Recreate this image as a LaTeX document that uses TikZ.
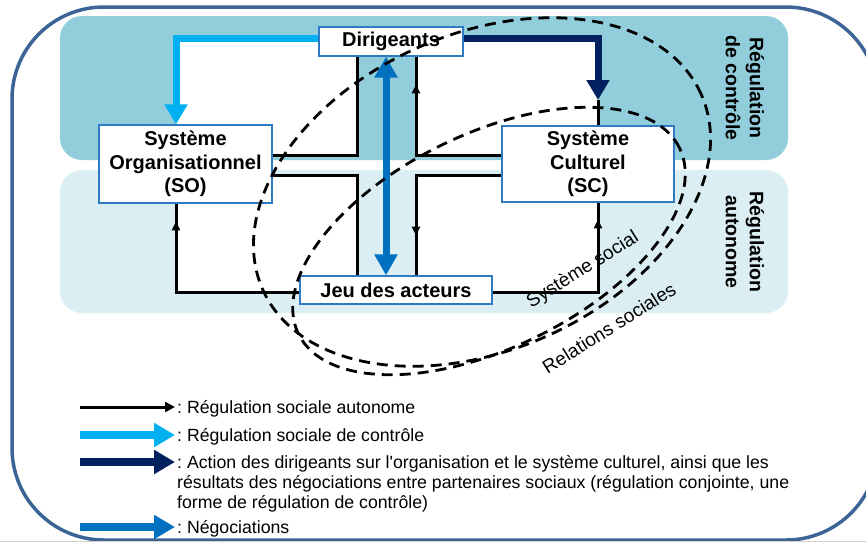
\documentclass[tikz,border=0pt]{standalone}
\usepackage{fontspec}
\setmainfont{Liberation Sans}
% a family without TeX ligatures, so that ' stays a straight apostrophe
\newfontfamily\legendfont{Liberation Sans}
\usetikzlibrary{arrows.meta,decorations.markings}

\definecolor{frameblue}{HTML}{3C6496}
\definecolor{bandtop}{HTML}{92CDDC}
\definecolor{bandlow}{HTML}{DAEEF3}
\definecolor{boxblue}{HTML}{2E7BC4}
\definecolor{ctrlcyan}{HTML}{00B0F0}
\definecolor{leadnavy}{HTML}{002060}
\definecolor{negoblue}{HTML}{0070C0}

\begin{document}
\frenchspacing
\begin{tikzpicture}[x=1pt,y=-1pt,
  box/.style={draw=boxblue, line width=1.2pt, fill=white, inner sep=0pt, align=center,
    font=\fontsize{20}{23.5}\selectfont\bfseries},
  reg/.style={line width=3pt, black},
  tipat/.style={postaction={decorate}, decoration={markings,
    mark=at position #1 with {\arrow{Triangle[length=9pt,width=8pt]}}}},
  ctrl/.style={line width=7pt, ctrlcyan, -{Triangle[length=20pt,width=22pt]}},
  lead/.style={line width=7pt, leadnavy, -{Triangle[length=20pt,width=22pt]}},
  nego/.style={line width=7pt, negoblue, {Triangle[length=21pt,width=22pt]}-{Triangle[length=21pt,width=22pt]}},
  soc/.style={line width=2.8pt, black, dash pattern=on 11pt off 7pt},
  lab/.style={inner sep=0pt, font=\fontsize{19}{22}\selectfont},
  bandlab/.style={inner sep=0pt, align=center, font=\fontsize{19.5}{24}\selectfont\bfseries},
  legtext/.style={inner sep=0pt, font=\legendfont\fontsize{17.7}{20}\selectfont},
  legreg/.style={line width=3pt, black, -{Triangle[length=10pt,width=10pt]}, shorten >=2pt},
  legthick/.style={line width=8pt, -{Triangle[length=21pt,width=23pt]}, shorten >=2pt}
]
\useasboundingbox (0,0) rectangle (866,542);

% outer frame, running off the right edge
\begin{scope}
  \clip (0,0) rectangle (866,542);
  \draw[frameblue, line width=3.5pt, rounded corners=92pt] (12,7) rectangle (878,540);
  \draw[black!18, line width=0.8pt] (0,541.5) -- (866,541.5);
\end{scope}

% regulation bands
\fill[bandtop, rounded corners=22pt] (60,16) rectangle (788,160);
\fill[bandlow, rounded corners=22pt] (60,170) rectangle (788,313);

% white quadrants enclosed by the loops
\fill[white] (176,38) rectangle (357,155);
\fill[white] (416,38) rectangle (598,155);
\fill[white] (176,175) rectangle (357,292);
\fill[white] (416,175) rectangle (598,292);

% helper coordinates for the loop lines
\coordinate (yA) at (0,38);
\coordinate (yB) at (0,155);
\coordinate (yC) at (0,175);
\coordinate (yD) at (0,292);
\coordinate (xL) at (176,0);
\coordinate (x1) at (357,0);
\coordinate (xN) at (386,0);
\coordinate (x2) at (416,0);
\coordinate (xR) at (598,0);
\coordinate (navyTip) at (598,100);

% actors
\node[box, minimum width=144pt, minimum height=29pt] (Dir) at (391,41.5) {Dirigeants};
\node[box, minimum width=173pt, minimum height=78pt] (SO) at (185.5,164) {Système\\Organisationnel\\(SO)};
\node[box, minimum width=172pt, minimum height=76pt] (SC) at (588,164) {Système\\Culturel\\(SC)};
\node[box, minimum width=192pt, minimum height=28pt] (Jeu) at (396,290) {Jeu des acteurs};

% autonomous regulation loops
\draw[reg] (SO.east |- yB) -| (Dir.south -| x1);
\draw[reg] (SO.east |- yC) -| (Jeu.north -| x1);
\draw[reg, tipat=156pt] (SC.west |- yB) -| (Dir.south -| x2);
\draw[reg, tipat=146pt] (SC.west |- yC) -| (Jeu.north -| x2);
\draw[reg, tipat=194pt] (Jeu.west |- yD) -| (SO.south -| xL);
\draw[reg, tipat=178pt] (Jeu.east |- yD) -| (SC.south -| xR);
\draw[reg] (navyTip) -- (SC.north -| xR);

% control regulation and leadership action
\draw[ctrl] (Dir.west |- yA) -| (SO.north -| xL);
\draw[lead] (Dir.east |- yA) -| (navyTip);

% negotiations
\draw[nego] (Dir.south -| xN) -- (Jeu.north -| xN);

% social relations and social system
\draw[soc, rotate around={24:(482,192)}] (482,192) ellipse [x radius=240pt, y radius=158pt];
\draw[soc, rotate around={26:(489,241)}] (489,241) ellipse [x radius=212pt, y radius=107pt];
\node[lab, rotate=32] (lsoc) at (583,270) {Système social};
\node[lab, rotate=32] (lrel) at (609,328) {Relations sociales};

% band titles
\node[bandlab, rotate=-90] (rctl) at (745,88) {Régulation\\de contrôle};
\node[bandlab, rotate=-90] (raut) at (745,242) {Régulation\\autonome};

% legend
\node[legtext, anchor=base west] (t1) at (177,413) {: Régulation sociale autonome};
\node[legtext, anchor=base west] (t2) at (177,441) {: Régulation sociale de contrôle};
\node[legtext, anchor=base west] (t3) at (177,468) {: Action des dirigeants sur l'organisation et le système culturel, ainsi que les};
\node[legtext, anchor=base west] (t3b) at (177,488) {résultats des négociations entre partenaires sociaux (régulation conjointe, une};
\node[legtext, anchor=base west] (t3c) at (177,508) {forme de régulation de contrôle)};
\node[legtext, anchor=base west] (t4) at (177,533) {: Négociations};

\coordinate (l1) at (80,407);
\coordinate (l2) at (80,435);
\coordinate (l3) at (80,462);
\coordinate (l4) at (80,527);
\draw[legreg] (l1) -- (l1 -| t1.west);
\draw[legthick, ctrlcyan] (l2) -- (l2 -| t2.west);
\draw[legthick, leadnavy] (l3) -- (l3 -| t3.west);
\draw[legthick, negoblue] (l4) -- (l4 -| t4.west);
\end{tikzpicture}
\end{document}
